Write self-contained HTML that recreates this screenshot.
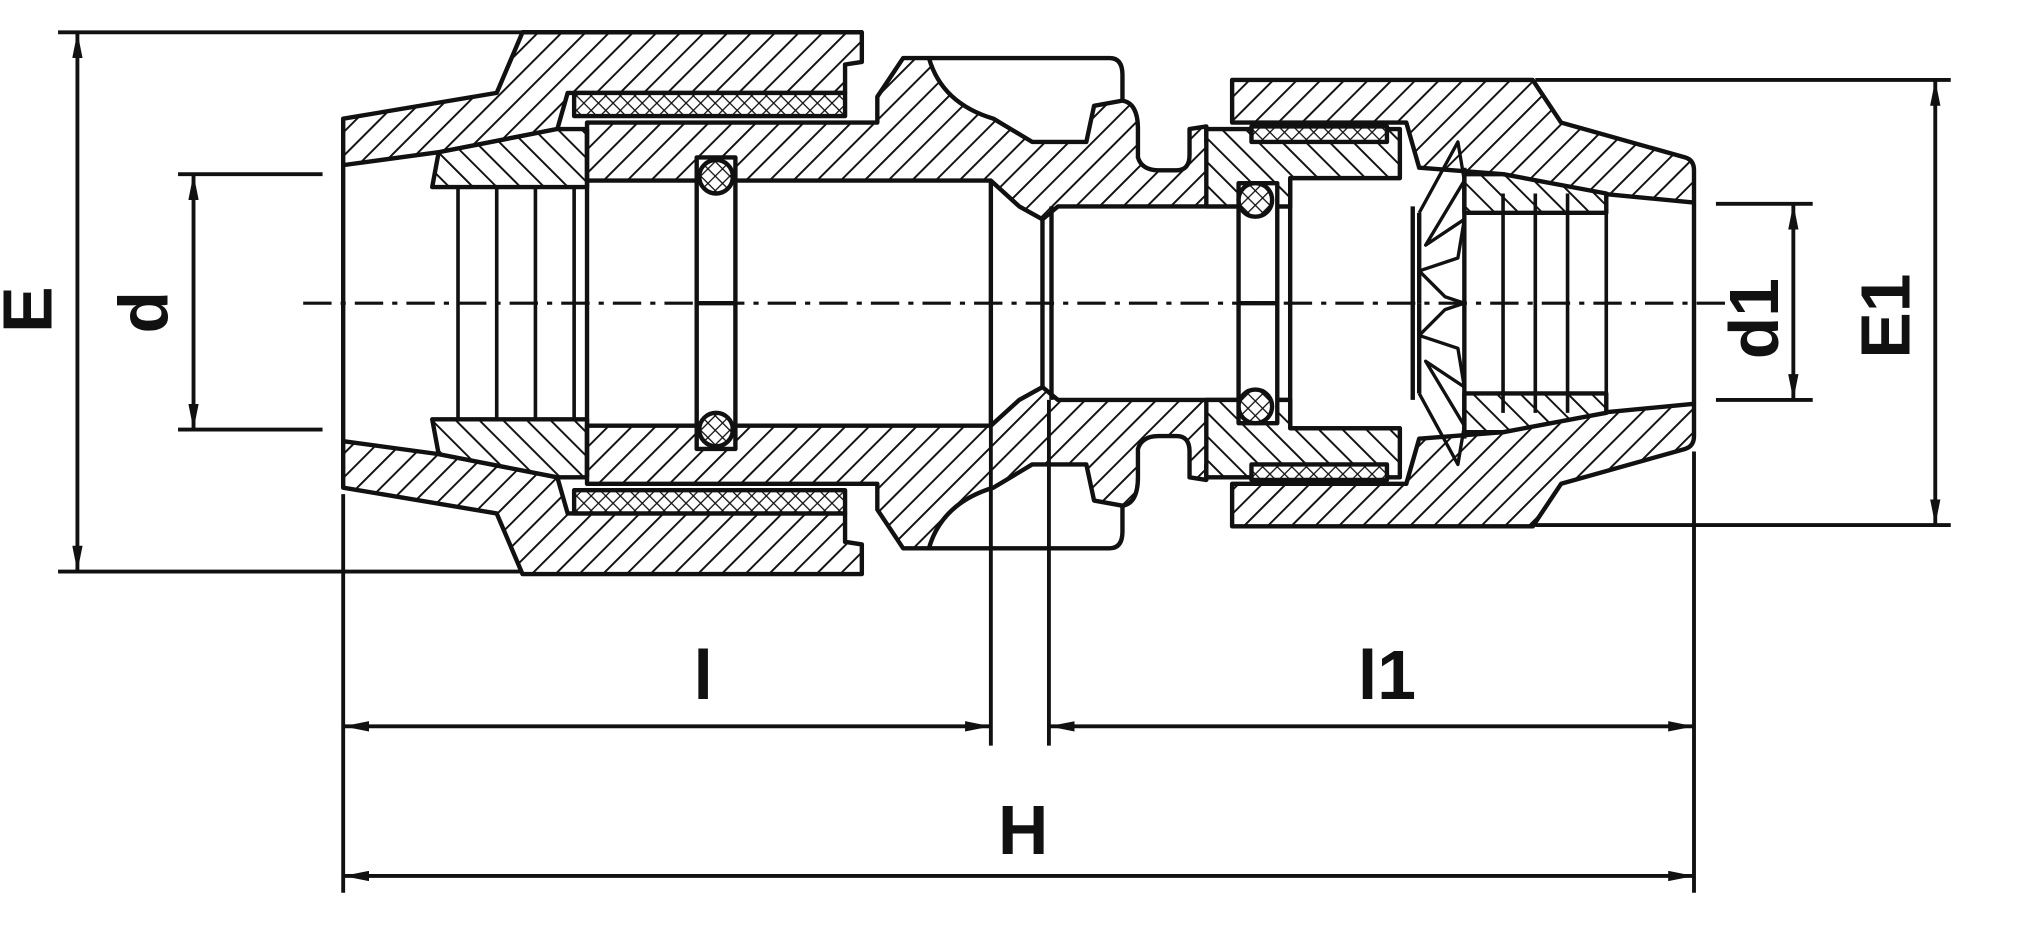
<!DOCTYPE html>
<html><head><style>html,body{margin:0;padding:0;background:#fff;width:2023px;height:925px;overflow:hidden}</style></head>
<body>
<svg width="2023" height="925" viewBox="0 0 1568 717" preserveAspectRatio="none" xmlns="http://www.w3.org/2000/svg">
<defs>
<pattern id="h" patternUnits="userSpaceOnUse" width="13" height="13" patternTransform="rotate(45)">
<rect width="13" height="13" fill="#fff"/><line x1="0" y1="0" x2="0" y2="13" stroke="#111" stroke-width="3"/></pattern>
<pattern id="h2" patternUnits="userSpaceOnUse" width="13" height="13" patternTransform="rotate(-45)">
<rect width="13" height="13" fill="#fff"/><line x1="0" y1="0" x2="0" y2="13" stroke="#111" stroke-width="3"/></pattern>
<pattern id="x" patternUnits="userSpaceOnUse" width="8" height="8" patternTransform="rotate(45)">
<rect width="8" height="8" fill="#fff"/><line x1="0" y1="0" x2="0" y2="8" stroke="#111" stroke-width="2"/><line x1="0" y1="0" x2="8" y2="0" stroke="#111" stroke-width="2"/></pattern>
<marker id="a" viewBox="0 0 20 8" refX="20" refY="4" markerWidth="20" markerHeight="8" markerUnits="userSpaceOnUse" orient="auto-start-reverse"><path d="M0,0 L20,4 L0,8 Z" fill="#111"/></marker>
<g id="halfA" stroke="#111" stroke-width="3.4" stroke-linejoin="round">
<path d="M266,92 L385,72 L405,25 L668,25 L668,48 L655,50 L655,72 L440,72 L432,100 L340,118 L266,128 Z" fill="url(#h)"/>
<path d="M340,118 L432,100 L455,100 L455,145 L335,145 Z" fill="url(#h2)"/>
<rect x="445" y="72" width="210" height="18" fill="url(#x)"/>
<path d="M455,95 L680,95 L680,75 L700,45 L720,45 Q730,80 770,92 L800,110 L842,110 L848,82 L870,78 Q882,80 882,100 L882,122 Q885,132 898,132 L912,132 Q922,132 922,120 L922,100 L935,98 L935,110 L1085,110 L1085,138 L1000,138 L1000,160 L820,160 L808,170 L790,160 L768,140 L455,140 Z" fill="url(#h)"/>
<path d="M720,45 L860,45 Q870,45 870,58 L870,78" fill="none"/>
<path d="M935,100 L1085,100 L1085,138 L1000,138 L1000,160 L935,160 Z" fill="url(#h2)"/>
<rect x="970" y="98" width="105" height="12" fill="url(#x)"/>
<path d="M955,62 L1188,62 L1210,95 L1306,122 Q1313,124 1313,132 L1313,157 L1240,150 L1165,135 L1100,130 L1090,95 L955,95 Z" fill="url(#h)"/>
<path d="M1135,135 L1165,135 L1245,150 L1245,165 L1135,165 Z" fill="url(#h2)"/>
<rect x="540" y="122" width="30" height="113" fill="#fff"/>
<circle cx="555" cy="137" r="13" fill="url(#x)"/>
<rect x="960" y="142" width="30" height="93" fill="#fff"/>
<circle cx="973" cy="155" r="13" fill="url(#x)"/>
<path d="M1100,165 L1130,110 L1135,140 L1105,190 L1135,170 L1130,200 L1100,210 L1120,230 L1135,235" fill="none" stroke-width="2.6"/>
<line x1="1100" y1="165" x2="1100" y2="235"/>
<line x1="1135" y1="130" x2="1135" y2="235"/>
</g>
<g id="halfB" stroke="#111" stroke-width="3.4" stroke-linejoin="round">
<path d="M266,92 L385,72 L405,25 L668,25 L668,48 L655,50 L655,72 L440,72 L432,100 L340,118 L266,128 Z" fill="url(#h2)"/>
<path d="M340,118 L432,100 L455,100 L455,145 L335,145 Z" fill="url(#h)"/>
<rect x="445" y="72" width="210" height="18" fill="url(#x)"/>
<path d="M455,95 L680,95 L680,75 L700,45 L720,45 Q730,80 770,92 L800,110 L842,110 L848,82 L870,78 Q882,80 882,100 L882,122 Q885,132 898,132 L912,132 Q922,132 922,120 L922,100 L935,98 L935,110 L1085,110 L1085,138 L1000,138 L1000,160 L820,160 L808,170 L790,160 L768,140 L455,140 Z" fill="url(#h2)"/>
<path d="M720,45 L860,45 Q870,45 870,58 L870,78" fill="none"/>
<path d="M935,100 L1085,100 L1085,138 L1000,138 L1000,160 L935,160 Z" fill="url(#h)"/>
<rect x="970" y="98" width="105" height="12" fill="url(#x)"/>
<path d="M955,62 L1188,62 L1210,95 L1306,122 Q1313,124 1313,132 L1313,157 L1240,150 L1165,135 L1100,130 L1090,95 L955,95 Z" fill="url(#h2)"/>
<path d="M1135,135 L1165,135 L1245,150 L1245,165 L1135,165 Z" fill="url(#h)"/>
<rect x="540" y="122" width="30" height="113" fill="#fff"/>
<circle cx="555" cy="137" r="13" fill="url(#x)"/>
<rect x="960" y="142" width="30" height="93" fill="#fff"/>
<circle cx="973" cy="155" r="13" fill="url(#x)"/>
<path d="M1100,165 L1130,110 L1135,140 L1105,190 L1135,170 L1130,200 L1100,210 L1120,230 L1135,235" fill="none" stroke-width="2.6"/>
<line x1="1100" y1="165" x2="1100" y2="235"/>
<line x1="1135" y1="130" x2="1135" y2="235"/>
</g>
</defs>
<rect width="1568" height="717" fill="#fff"/>
<use href="#halfA"/>
<use href="#halfB" transform="translate(0,470) scale(1,-1)"/>
<g stroke="#111" stroke-width="3.4" fill="none">
<line x1="266" y1="128" x2="266" y2="342"/>
<line x1="455" y1="100" x2="455" y2="370"/>
<line x1="768" y1="140" x2="768" y2="330"/>
<line x1="808" y1="170" x2="808" y2="300"/>
<line x1="815" y1="160" x2="815" y2="310"/>
<line x1="1095" y1="160" x2="1095" y2="310"/>
<line x1="1000" y1="160" x2="1000" y2="310"/>
<line x1="1313" y1="157" x2="1313" y2="313"/>
<g stroke-width="2.8">
<line x1="355" y1="145" x2="355" y2="325"/><line x1="385" y1="145" x2="385" y2="325"/><line x1="415" y1="145" x2="415" y2="325"/><line x1="445" y1="145" x2="445" y2="325"/>
<line x1="1165" y1="150" x2="1165" y2="320"/><line x1="1190" y1="150" x2="1190" y2="320"/><line x1="1215" y1="150" x2="1215" y2="320"/><line x1="1245" y1="150" x2="1245" y2="320"/>
</g>
<line x1="235" y1="235" x2="1345" y2="235" stroke-width="2.4" stroke-dasharray="22,7,4,7"/>
<g stroke-width="3">
<line x1="45" y1="25" x2="405" y2="25"/><line x1="45" y1="443" x2="405" y2="443"/>
<line x1="60" y1="25" x2="60" y2="443" marker-start="url(#a)" marker-end="url(#a)"/>
<line x1="138" y1="135" x2="250" y2="135"/><line x1="138" y1="333" x2="250" y2="333"/>
<line x1="150" y1="135" x2="150" y2="333" marker-start="url(#a)" marker-end="url(#a)"/>
<line x1="1190" y1="62" x2="1512" y2="62"/><line x1="1190" y1="407" x2="1512" y2="407"/>
<line x1="1500" y1="62" x2="1500" y2="407" marker-start="url(#a)" marker-end="url(#a)"/>
<line x1="1330" y1="158" x2="1405" y2="158"/><line x1="1330" y1="310" x2="1405" y2="310"/>
<line x1="1390" y1="158" x2="1390" y2="310" marker-start="url(#a)" marker-end="url(#a)"/>
<line x1="266" y1="383" x2="266" y2="692"/><line x1="768" y1="330" x2="768" y2="578"/>
<line x1="813" y1="310" x2="813" y2="578"/><line x1="1313" y1="350" x2="1313" y2="692"/>
<line x1="266" y1="563" x2="768" y2="563" marker-start="url(#a)" marker-end="url(#a)"/>
<line x1="813" y1="563" x2="1313" y2="563" marker-start="url(#a)" marker-end="url(#a)"/>
<line x1="266" y1="679" x2="1313" y2="679" marker-start="url(#a)" marker-end="url(#a)"/>
</g>
</g>
<g font-family="Liberation Sans, sans-serif" font-size="54" font-weight="bold" fill="#111" text-anchor="middle">
<text x="545" y="542">l</text>
<text x="1075" y="542">l1</text>
<text x="793" y="662">H</text>
<text transform="translate(40,240) rotate(-90)">E</text>
<text transform="translate(130,242) rotate(-90)">d</text>
<text transform="translate(1480,245) rotate(-90)">E1</text>
<text transform="translate(1378,247) rotate(-90)">d1</text>
</g>
</svg>
</body></html>
